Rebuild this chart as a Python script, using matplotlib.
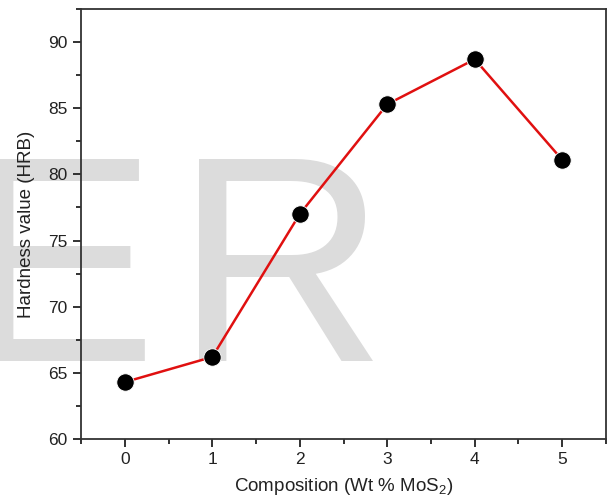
import numpy as np
import matplotlib
matplotlib.use('Agg')
import matplotlib.pyplot as plt
from matplotlib.ticker import MultipleLocator

plt.rcParams['font.family'] = ['Liberation Sans', 'DejaVu Sans']
plt.rcParams['mathtext.fontset'] = 'custom'
plt.rcParams['mathtext.rm'] = 'Liberation Sans'
plt.rcParams['mathtext.it'] = 'Liberation Sans'

# data
composition = [0, 1, 2, 3, 4, 5]
hardness = [64.3, 66.2, 77.0, 85.3, 88.7, 81.1]

fig = plt.figure(figsize=(6.11, 5.0), dpi=100)
ax = fig.add_axes([0.1326, 0.122, 0.8592, 0.860])
ax.patch.set_alpha(0)

# big grey watermark behind everything (two letters placed separately)
fig.text(-0.062, 0.278, 'E', fontsize=211, color='#dcdcdc', zorder=-10,
         ha='left', va='baseline')
fig.text(0.2864, 0.278, 'R', fontsize=211, color='#dcdcdc', zorder=-10,
         ha='left', va='baseline')

ax.plot(composition, hardness, color='#e01010', lw=1.8, zorder=2)
ax.plot(composition, hardness, 'o', color='black', ms=12.5,
        mec='white', mew=0.6, zorder=3)

ax.set_xlim(-0.5, 5.5)
ax.set_ylim(60, 92.5)
ax.xaxis.set_major_locator(MultipleLocator(1))
ax.xaxis.set_minor_locator(MultipleLocator(0.5))
ax.yaxis.set_major_locator(MultipleLocator(5))
ax.yaxis.set_minor_locator(MultipleLocator(2.5))

ax.tick_params(which='both', direction='out', width=1.3, color='#222222',
               labelsize=12.5, labelcolor='#222222', top=False, right=False)
ax.tick_params(which='major', length=6)
ax.tick_params(which='minor', length=3.5)
for s in ax.spines.values():
    s.set_linewidth(1.3)
    s.set_color('#333333')

ax.set_xlabel('Composition (Wt % MoS$_2$)', fontsize=13.5, color='#222222', labelpad=6)
ax.set_ylabel('Hardness value (HRB)', fontsize=13.5, color='#222222', labelpad=10)

fig.savefig('out.png', dpi=100)
